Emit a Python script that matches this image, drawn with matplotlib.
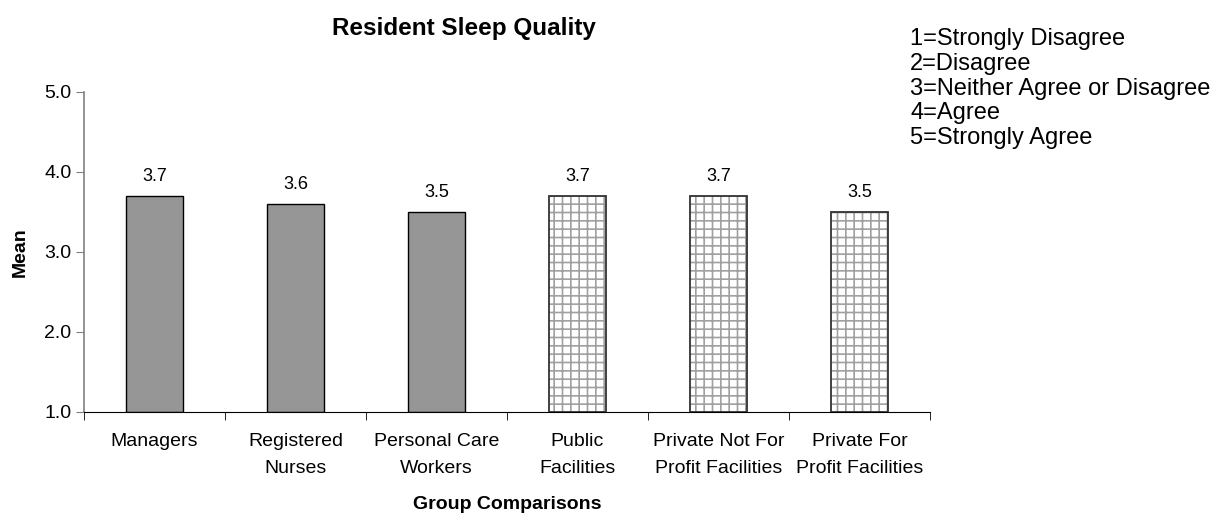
import numpy as np
import matplotlib
matplotlib.use("Agg")
import matplotlib.pyplot as plt

plt.rcParams['font.family'] = ['Liberation Sans', 'DejaVu Sans']
plt.rcParams['hatch.linewidth'] = 1.2

# -----------------------
# Data
# -----------------------

categories = [
    "Managers",
    "Registered\nNurses",
    "Personal Care\nWorkers",
    "Public\nFacilities",
    "Private Not For\nProfit Facilities",
    "Private For\nProfit Facilities",
]
means = [3.7, 3.6, 3.5, 3.7, 3.7, 3.5]
hatched = [False, False, False, True, True, True]

scale_text = [
    "1=Strongly Disagree",
    "2=Disagree",
    "3=Neither Agree or Disagree",
    "4=Agree",
    "5=Strongly Agree",
]

# -----------------------
# Plot
# -----------------------

fig = plt.figure(figsize=(12.3, 5.13), dpi=100)
ax = fig.add_axes([0.0683, 0.197, 0.6877, 0.6237])

x = np.arange(len(categories))
base = 1.0

for xi, m, h in zip(x, means, hatched):
    if h:
        ax.bar(xi, m - base, bottom=base, width=0.4, color="white",
               edgecolor="#a0a0a0", hatch="++", linewidth=0, zorder=2)
        ax.bar(xi, m - base, bottom=base, width=0.4, fill=False,
               edgecolor="#333333", linewidth=1.3, zorder=3)
    else:
        ax.bar(xi, m - base, bottom=base, width=0.4, color="#969696",
               edgecolor="black", linewidth=1.0, zorder=2)
    ax.annotate(f"{m:.1f}", (xi, m), xytext=(0, 8), textcoords="offset points",
                ha="center", va="bottom", fontsize=13)

ax.set_xlim(-0.5, len(categories) - 0.5)
ax.set_ylim(1.0, 5.0)
ax.set_yticks([1.0, 2.0, 3.0, 4.0, 5.0])
ax.set_yticklabels(["1.0", "2.0", "3.0", "4.0", "5.0"], fontsize=14)

ax.set_xticks(np.arange(len(categories) + 1) - 0.5, minor=True)
ax.tick_params(axis="x", which="major", length=0, pad=15)
ax.tick_params(axis="x", which="minor", length=6, direction="out", color="black")
ax.tick_params(axis="y", length=6, direction="out", color="#808080", pad=3)
ax.set_xticks(x)
ax.set_xticklabels(categories, fontsize=14, linespacing=1.75)

for s in ["top", "right"]:
    ax.spines[s].set_visible(False)
ax.spines["left"].set_color("#808080")
ax.spines["left"].set_linewidth(1.2)
ax.spines["bottom"].set_color("black")

ax.set_ylabel("Mean", fontsize=14, fontweight="bold", labelpad=11)
ax.set_xlabel("Group Comparisons", fontsize=14, fontweight="bold", labelpad=14)

fig.text(0.377, 0.945, "Resident Sleep Quality", ha="center", va="center",
         fontsize=17.5, fontweight="bold")

fig.text(0.740, 0.945, "\n".join(scale_text), ha="left", va="top",
         fontsize=17, linespacing=1.16)

fig.savefig("out.png", dpi=100)
